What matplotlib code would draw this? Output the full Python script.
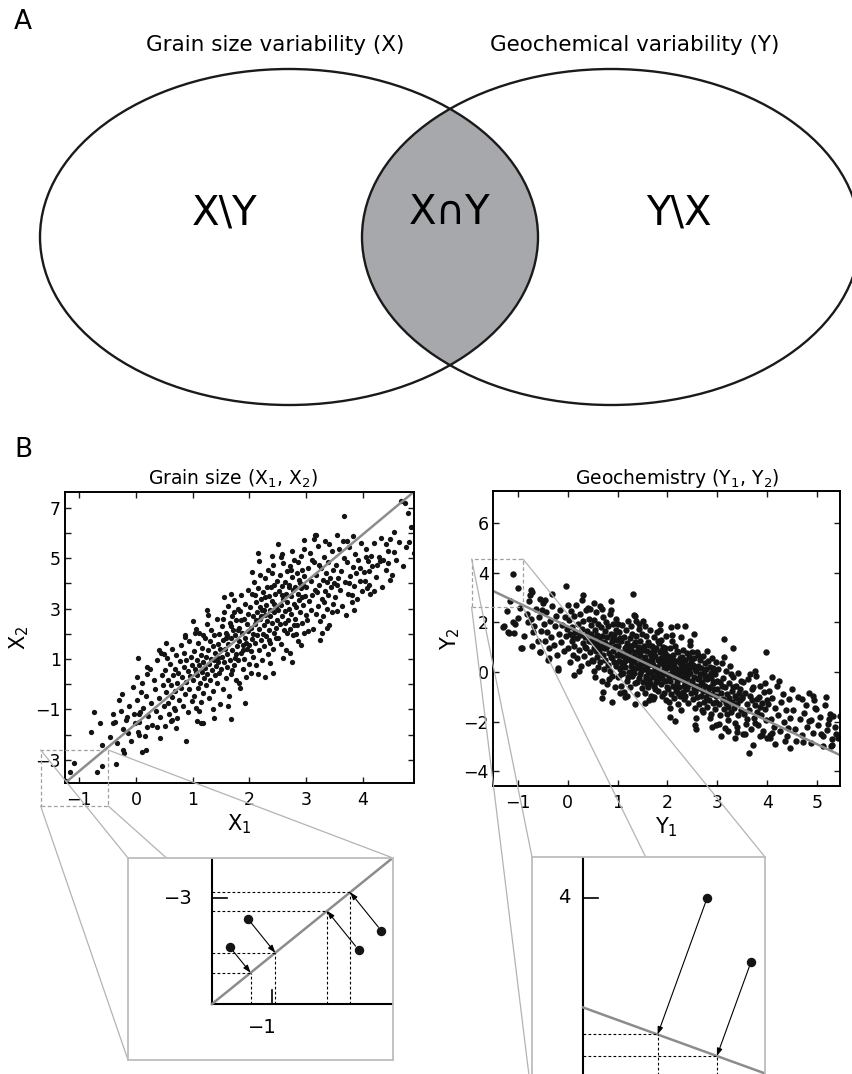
import numpy as np
import matplotlib
matplotlib.use("Agg")
import matplotlib.pyplot as plt
from matplotlib.patches import Ellipse, Rectangle, ConnectionPatch

plt.rcParams['font.family'] = 'DejaVu Sans'
plt.rcParams['mathtext.default'] = 'regular'

# ---------------- data ----------------
# grain size scatter (X1, X2)
grain_pts = [
    # sparse lower-left tail
    (-1.23,-3.84),(-1.16,-3.47),(-1.09,-3.14),(-0.69,-3.47),(-0.59,-3.23),(-0.35,-3.18),(-0.60,-2.41),
    (-0.79,-1.88),(-0.63,-1.55),(-0.74,-1.09),(-0.40,-1.55),(-0.37,-1.50),(-0.30,-0.63),(-0.22,-2.60),
    (-0.21,-2.72),(0.10,-2.68),(0.18,-2.61),(-0.23,-1.79),(-0.18,-1.40),(-0.15,-1.30),(-0.03,-1.18),
    (0.04,-1.90),(0.05,-2.02),(0.05,-1.20),(0.07,-1.12),(0.19,-1.69),(0.37,-1.69),(0.42,-2.12),
    (0.89,-2.25),(0.62,-1.46),(0.64,-1.42),(0.69,-1.02),(1.08,-1.45),(1.15,-1.55),(1.19,-1.52),
    (1.38,-1.35),(1.68,-1.39),(1.92,-0.76),(0.03,1.03),(0.01,0.30),(0.20,0.70),(0.19,0.42),(0.53,1.62),
    (0.40,1.35),(0.45,1.25),(0.50,1.20),(2.28,0.30),(2.42,0.43),(2.72,1.22),
    # sparse upper-right tail
    (4.67,7.28),(4.74,7.19),(4.80,6.79),(4.90,5.20),(4.82,5.63),(4.54,6.04),(4.55,5.25),(4.41,5.56),
    (4.51,4.32),(4.45,4.81),(3.67,6.66),(4.13,3.58),(4.30,4.90),(4.25,4.75),(4.15,5.10),(4.06,5.05),
    (4.09,4.90),(4.10,4.50),(4.04,4.10),(4.08,3.80),(3.54,5.93),(3.72,5.67),(3.83,5.87),(3.16,5.93),
    (3.18,5.92),(2.97,5.73),(3.33,5.67),(2.51,5.56),(2.15,5.20),(2.75,5.27),(2.40,5.10),(2.58,5.15),
    (1.67,3.58),(1.26,2.96),(1.01,2.50),(1.04,2.03),(0.86,1.86),(3.36,2.23),(3.80,3.53),
    # x < 0.5
    (-0.45,-2.10),(-0.41,-1.20),(-0.33,-2.35),(-0.27,-1.05),(-0.24,-0.40),(-0.12,-0.85),(-0.08,-2.25),
    (-0.05,-0.10),(-0.02,-1.55),(-0.14,-1.95),
    (0.02,-0.62),(0.06,-1.48),(0.09,-0.30),(0.11,0.05),(0.13,-0.95),(0.16,-2.05),(0.18,-0.48),(0.21,-1.25),
    (0.24,0.62),(0.26,-0.75),(0.29,-1.62),(0.31,0.18),(0.33,-0.20),(0.36,-1.05),(0.38,0.95),(0.41,-0.55),
    (0.43,-1.30),(0.46,0.35),(0.47,-0.05),(0.49,-0.88),
    # 0.5 - 1.0
    (0.51,-1.65),(0.52,0.55),(0.53,-0.30),(0.55,1.05),(0.56,-0.75),(0.57,0.15),(0.59,-1.20),(0.60,0.80),
    (0.61,-0.05),(0.63,-0.50),(0.64,1.40),(0.65,0.35),(0.67,-0.95),(0.68,0.62),(0.69,-0.25),(0.71,1.15),
    (0.72,0.05),(0.73,-1.35),(0.75,0.45),(0.76,-0.62),(0.77,0.92),(0.79,1.55),(0.80,-0.15),(0.81,0.28),
    (0.83,-0.85),(0.84,0.70),(0.85,1.25),(0.87,-0.40),(0.88,0.10),(0.89,0.98),(0.91,-1.10),(0.92,0.52),
    (0.93,1.70),(0.94,-0.20),(0.96,0.32),(0.97,1.08),(0.98,-0.65),(0.99,0.78),(0.70,-1.75),(0.86,1.95),
    # 1.0 - 1.5
    (1.01,0.15),(1.02,1.30),(1.03,-0.45),(1.04,0.62),(1.05,2.20),(1.06,-0.95),(1.07,0.95),(1.08,0.35),
    (1.09,1.62),(1.10,-0.15),(1.11,0.78),(1.12,2.05),(1.13,0.05),(1.14,1.15),(1.15,-0.70),(1.16,0.48),
    (1.17,1.45),(1.18,0.90),(1.19,-0.35),(1.20,0.25),(1.21,1.85),(1.22,0.65),(1.23,1.10),(1.24,-0.05),
    (1.25,2.40),(1.26,0.42),(1.27,1.35),(1.28,0.82),(1.29,-0.55),(1.30,1.72),(1.31,0.18),(1.32,1.02),
    (1.33,2.15),(1.34,0.55),(1.35,1.50),(1.36,-0.25),(1.37,0.95),(1.38,1.95),(1.39,0.38),(1.40,1.25),
    (1.41,0.72),(1.42,2.60),(1.43,0.05),(1.44,1.58),(1.45,1.05),(1.46,0.45),(1.47,2.00),(1.48,-0.80),
    (1.49,1.38),(1.12,-1.05),(1.27,2.75),(1.36,-0.98),(1.44,0.88),(1.18,1.95),(1.05,0.50),
    # 1.5 - 2.0
    (1.50,0.62),(1.51,2.30),(1.52,1.10),(1.53,-0.20),(1.54,1.75),(1.55,0.90),(1.56,2.85),(1.57,1.40),
    (1.58,0.25),(1.59,2.05),(1.60,1.20),(1.61,0.70),(1.62,3.10),(1.63,1.60),(1.64,-0.45),(1.65,2.45),
    (1.66,0.98),(1.67,1.85),(1.68,0.40),(1.69,2.70),(1.70,1.35),(1.71,2.15),(1.72,0.75),(1.73,3.35),
    (1.74,1.05),(1.75,1.95),(1.76,0.15),(1.77,2.55),(1.78,1.50),(1.79,3.00),(1.80,0.95),(1.81,2.25),
    (1.82,1.70),(1.83,-0.15),(1.84,2.90),(1.85,1.25),(1.86,3.55),(1.87,2.05),(1.88,0.60),(1.89,1.55),
    (1.90,2.60),(1.91,1.00),(1.92,3.20),(1.93,1.85),(1.94,0.30),(1.95,2.40),(1.96,1.40),(1.97,3.75),
    (1.98,2.10),(1.99,0.82),(1.55,3.45),(1.63,-0.85),(1.72,2.85),(1.81,0.05),(1.58,1.82),(1.67,2.30),
    (1.76,1.20),(1.85,2.55),(1.94,1.65),(1.53,2.60),(1.61,1.95),(1.70,0.55),(1.79,2.15),(1.88,1.35),
    (1.97,2.80),
    # 2.0 - 2.5
    (2.00,1.55),(2.01,3.05),(2.02,2.25),(2.03,0.45),(2.04,3.60),(2.05,1.80),(2.06,2.70),(2.07,1.10),
    (2.08,4.05),(2.09,2.40),(2.10,1.65),(2.11,3.25),(2.12,0.75),(2.13,2.85),(2.14,1.95),(2.15,3.80),
    (2.16,2.20),(2.17,1.35),(2.18,4.35),(2.19,2.60),(2.20,3.40),(2.21,1.75),(2.22,2.95),(2.23,0.95),
    (2.24,3.65),(2.25,2.35),(2.26,1.50),(2.27,4.20),(2.28,2.75),(2.29,3.15),(2.30,1.90),(2.31,2.50),
    (2.32,4.55),(2.33,1.20),(2.34,3.50),(2.35,2.15),(2.36,2.95),(2.37,1.65),(2.38,3.85),(2.39,2.45),
    (2.40,3.30),(2.41,1.40),(2.42,4.75),(2.43,2.85),(2.44,2.05),(2.45,3.60),(2.46,1.85),(2.47,3.05),
    (2.48,2.55),(2.49,4.10),(2.05,4.45),(2.12,2.55),(2.18,3.05),(2.24,2.00),(2.31,3.85),(2.37,2.70),
    (2.44,3.20),(2.02,1.30),(2.09,3.55),(2.15,0.40),(2.21,2.70),(2.27,3.45),(2.34,1.75),(2.40,4.40),
    (2.47,2.25),(2.07,2.00),(2.26,2.95),(2.43,3.95),(2.16,4.90),(2.36,0.85),
    # 2.5 - 3.0
    (2.50,2.95),(2.51,1.85),(2.52,3.70),(2.53,2.40),(2.54,4.35),(2.55,3.15),(2.56,1.60),(2.57,3.90),
    (2.58,2.70),(2.59,4.80),(2.60,3.40),(2.61,2.15),(2.62,4.05),(2.63,2.90),(2.64,3.60),(2.65,1.35),
    (2.66,4.50),(2.67,3.25),(2.68,2.55),(2.69,3.95),(2.70,3.00),(2.71,4.70),(2.72,2.20),(2.73,3.50),
    (2.74,2.80),(2.75,4.25),(2.76,3.75),(2.77,1.95),(2.78,3.20),(2.79,4.95),(2.80,2.60),(2.81,3.85),
    (2.82,3.05),(2.83,4.40),(2.84,2.35),(2.85,3.60),(2.86,1.70),(2.87,4.15),(2.88,3.35),(2.89,2.85),
    (2.90,5.10),(2.91,3.80),(2.92,2.45),(2.93,4.55),(2.94,3.15),(2.95,3.95),(2.96,2.05),(2.97,4.30),
    (2.98,3.50),(2.99,2.75),(2.55,5.05),(2.62,2.45),(2.70,3.85),(2.78,2.35),(2.85,4.85),(2.93,3.45),
    (2.58,3.55),(2.66,2.05),(2.74,4.55),(2.82,2.00),(2.89,4.00),(2.97,5.35),(2.60,1.05),(2.75,0.90),
    (2.90,1.55),
    # 3.0 - 3.5
    (3.00,3.85),(3.02,2.55),(3.03,4.60),(3.05,3.30),(3.06,5.20),(3.08,2.95),(3.09,4.10),(3.11,3.55),
    (3.12,2.20),(3.14,4.85),(3.15,3.75),(3.17,2.80),(3.18,4.35),(3.20,3.10),(3.21,5.50),(3.23,3.95),
    (3.24,2.50),(3.26,4.60),(3.27,3.40),(3.29,4.15),(3.30,2.70),(3.32,5.05),(3.33,3.70),(3.35,4.40),
    (3.36,3.00),(3.38,4.85),(3.39,3.55),(3.41,2.35),(3.42,4.20),(3.44,3.85),(3.45,5.30),(3.47,3.20),
    (3.48,4.55),(3.10,4.95),(3.19,3.65),(3.28,2.05),(3.37,4.05),(3.46,2.85),(3.04,2.10),(3.13,5.75),
    (3.22,4.75),(3.31,3.25),(3.40,5.55),(3.49,4.00),(3.25,1.75),
    # 3.5 - 4.0
    (3.50,3.45),(3.52,4.75),(3.54,2.90),(3.56,4.20),(3.58,5.35),(3.60,3.75),(3.62,4.50),(3.64,3.10),
    (3.66,5.00),(3.68,4.05),(3.70,2.75),(3.72,4.85),(3.74,3.60),(3.76,5.45),(3.78,4.30),(3.80,3.25),
    (3.82,4.65),(3.84,3.90),(3.86,5.15),(3.88,4.40),(3.90,3.40),(3.92,4.95),(3.94,4.10),(3.96,5.60),
    (3.98,3.70),(3.55,3.95),(3.65,5.70),(3.75,4.00),(3.85,2.95),(3.95,4.60),
    # x > 4
    (4.02,4.45),(4.05,5.35),(4.11,3.95),(4.16,4.70),(4.20,5.60),(4.23,4.25),(4.28,5.05),(4.33,3.85),
    (4.36,4.95),(4.40,4.55),(4.44,5.30),(4.47,4.15),(4.19,3.70),(4.31,5.80),(4.48,5.75),
    (4.58,4.95),(4.63,5.65),(4.70,4.70),(4.76,5.45),(4.85,6.25),
]

# geochemistry scatter (Y1, Y2)
geo_pts = [
    # sparse outer points
    (-1.10,3.95),(-1.00,3.39),(-0.75,3.10),(-0.74,3.30),(-0.72,3.22),(-0.03,3.48),(-0.32,3.15),(0.30,3.12),
    (1.31,3.15),(-1.28,1.84),(-1.17,1.57),(-1.08,1.57),(-0.99,2.18),(-1.10,2.00),(-0.80,2.00),(-0.70,1.62),
    (-0.73,2.15),(-0.92,0.95),(-0.72,1.05),(-0.55,0.82),(-0.40,0.48),(-0.38,0.55),(-0.20,0.08),(0.12,-0.12),
    (0.70,-0.79),(0.69,-1.06),(0.89,-1.22),(1.05,-0.85),(1.15,-1.02),(1.34,-1.30),(1.55,-1.25),(1.62,-1.15),
    (1.72,-1.00),(2.06,-1.80),(2.16,-1.98),(2.55,-2.14),(2.58,-2.30),(2.90,-2.20),(2.97,-2.15),(3.08,-2.58),
    (3.22,-2.40),(3.35,-2.68),(3.40,-2.42),(3.51,-2.50),(3.63,-3.28),(3.72,-2.94),(3.85,-2.60),(4.00,-2.65),
    (4.05,-2.55),(4.10,-2.45),(4.15,-2.92),(4.35,-2.80),(4.45,-3.06),(4.58,-2.78),(4.72,-2.82),(4.88,-2.88),
    (5.07,-2.52),(5.11,-2.97),(5.27,-3.00),(5.29,-2.70),(5.37,-2.50),(5.45,-1.76),(5.32,-1.76),(5.22,-2.08),
    (5.24,-1.90),(3.98,0.82),(3.31,0.98),(3.13,1.32),(3.75,0.04),(4.10,-0.19),(4.92,-0.97),(5.17,-0.99),
    (4.70,-1.10),(4.77,-1.35),(4.93,-1.15),(4.95,-1.45),(4.84,-1.98),(2.54,1.55),(2.20,1.85),(2.35,1.85),
    (2.07,1.80),(1.84,1.94),(1.35,2.25),(1.42,1.95),(1.50,2.05),(0.87,2.85),(0.87,2.50),(0.40,2.58),
    (0.52,2.78),(0.00,2.70),(-0.45,2.90),(-0.50,2.78),(-0.55,2.95),(-1.30,1.83),(-1.20,1.62),(-0.93,0.98),
    (-0.56,0.82),(-0.19,0.15),
    # x < 0
    (-1.22,2.45),(-1.15,2.85),(-1.05,1.95),(-0.95,2.60),(-0.88,1.45),(-0.82,2.35),(-0.78,2.85),(-0.68,1.85),
    (-0.64,2.55),(-0.60,1.25),(-0.57,2.20),(-0.53,1.65),(-0.51,2.50),
    (-0.48,1.95),(-0.46,1.25),(-0.43,2.40),(-0.41,1.60),(-0.38,0.95),(-0.36,2.05),(-0.33,1.40),(-0.31,2.65),
    (-0.28,1.10),(-0.26,1.85),(-0.23,2.25),(-0.21,0.70),(-0.18,1.55),(-0.16,2.50),(-0.13,1.20),(-0.11,1.90),
    (-0.08,0.85),(-0.06,2.20),(-0.03,1.45),(-0.01,1.75),
    # 0.0 - 0.5
    (0.01,0.95),(0.02,2.10),(0.04,1.55),(0.05,0.40),(0.06,2.45),(0.08,1.25),(0.09,1.80),(0.10,0.70),
    (0.12,2.25),(0.13,1.05),(0.15,1.60),(0.16,2.70),(0.18,0.55),(0.19,1.35),(0.21,1.95),(0.22,0.90),
    (0.24,2.35),(0.25,1.50),(0.27,0.25),(0.28,1.75),(0.30,1.15),(0.31,2.05),(0.33,0.65),(0.34,1.40),
    (0.36,2.50),(0.37,0.95),(0.39,1.65),(0.40,0.35),(0.42,1.25),(0.43,2.15),(0.45,0.80),(0.46,1.55),
    (0.47,1.90),(0.49,0.50),(0.11,1.40),(0.23,0.05),(0.29,2.90),(0.35,1.00),(0.44,2.55),(0.48,1.20),
    # 0.5 - 1.0
    (0.50,1.35),(0.51,0.45),(0.52,2.10),(0.53,0.95),(0.54,1.70),(0.55,-0.20),(0.56,1.15),(0.57,2.40),
    (0.58,0.60),(0.59,1.50),(0.60,0.20),(0.61,1.95),(0.62,0.85),(0.63,1.30),(0.64,2.65),(0.65,0.40),
    (0.66,1.05),(0.67,1.80),(0.68,-0.35),(0.69,1.45),(0.70,0.70),(0.71,2.20),(0.72,0.10),(0.73,1.20),
    (0.74,1.65),(0.75,0.50),(0.76,2.00),(0.77,0.95),(0.78,-0.50),(0.79,1.40),(0.80,0.30),(0.81,1.85),
    (0.82,0.75),(0.83,1.10),(0.84,2.35),(0.85,0.05),(0.86,1.55),(0.87,0.60),(0.88,1.25),(0.89,-0.15),
    (0.90,1.95),(0.91,0.85),(0.92,0.40),(0.93,1.50),(0.94,1.05),(0.95,-0.60),(0.96,2.15),(0.97,0.25),
    (0.98,1.30),(0.99,0.70),(0.52,0.05),(0.60,1.05),(0.68,2.55),(0.75,1.15),(0.83,-0.30),(0.90,1.35),
    (0.97,1.70),(0.57,0.85),(0.72,0.95),(0.88,0.55),
    # 1.0 - 1.5
    (1.00,1.05),(1.01,-0.20),(1.02,0.45),(1.03,1.60),(1.04,0.10),(1.05,0.80),(1.06,-0.55),(1.07,1.25),
    (1.08,0.35),(1.09,1.90),(1.10,-0.05),(1.11,0.65),(1.12,1.40),(1.13,-0.80),(1.14,0.95),(1.15,0.20),
    (1.16,1.70),(1.17,0.50),(1.18,-0.35),(1.19,1.15),(1.20,0.75),(1.21,2.05),(1.22,0.00),(1.23,0.55),
    (1.24,1.35),(1.25,-0.60),(1.26,0.90),(1.27,0.25),(1.28,1.55),(1.29,-0.15),(1.30,0.65),(1.31,1.10),
    (1.32,0.40),(1.33,2.30),(1.34,-0.45),(1.35,0.80),(1.36,0.15),(1.37,1.45),(1.38,-0.90),(1.39,0.55),
    (1.40,1.00),(1.41,0.30),(1.42,1.75),(1.43,-0.25),(1.44,0.70),(1.45,1.25),(1.46,0.05),(1.47,0.45),
    (1.48,1.55),(1.49,-0.65),(1.03,0.70),(1.07,-0.10),(1.12,0.40),(1.16,1.00),(1.21,-0.20),(1.26,1.85),
    (1.30,0.10),(1.35,1.20),(1.39,-0.40),(1.44,0.20),(1.48,0.90),(1.05,1.35),(1.14,0.60),(1.23,1.05),
    (1.32,-0.05),(1.41,0.85),(1.09,0.25),(1.18,0.85),(1.27,0.45),(1.36,0.55),(1.45,-0.10),(1.01,1.95),
    (1.19,-0.95),(1.37,2.05),(1.46,0.95),
    # 1.5 - 2.0
    (1.50,0.35),(1.51,-0.40),(1.52,1.05),(1.53,0.10),(1.54,-0.85),(1.55,0.60),(1.56,1.45),(1.57,-0.15),
    (1.58,0.85),(1.59,0.25),(1.60,-0.60),(1.61,1.20),(1.62,0.45),(1.63,-0.30),(1.64,0.75),(1.65,1.70),
    (1.66,0.00),(1.67,-0.95),(1.68,0.55),(1.69,1.05),(1.70,-0.20),(1.71,0.30),(1.72,1.40),(1.73,-0.55),
    (1.74,0.65),(1.75,0.10),(1.76,0.95),(1.77,-0.40),(1.78,1.60),(1.79,0.20),(1.80,-0.75),(1.81,0.50),
    (1.82,1.15),(1.83,-0.10),(1.84,0.35),(1.85,0.80),(1.86,-0.50),(1.87,1.30),(1.88,0.05),(1.89,-0.25),
    (1.90,0.60),(1.91,1.00),(1.92,-0.85),(1.93,0.25),(1.94,0.75),(1.95,-0.35),(1.96,1.45),(1.97,0.15),
    (1.98,-0.60),(1.99,0.45),(1.52,0.50),(1.56,-0.25),(1.61,0.05),(1.65,-0.45),(1.69,0.40),(1.73,0.85),
    (1.77,0.00),(1.81,-0.30),(1.86,0.55),(1.90,-0.05),(1.94,0.95),(1.98,0.20),(1.54,1.85),(1.63,1.10),
    (1.71,-1.10),(1.80,1.25),(1.89,0.90),(1.97,-1.15),(1.58,-0.50),(1.67,0.70),(1.75,-0.70),(1.84,1.70),
    (1.92,0.40),(1.53,0.90),(1.62,-0.05),(1.70,0.95),(1.79,-0.20),(1.88,-0.95),(1.96,0.65),(1.60,0.30),
    # 2.0 - 2.5
    (2.00,-0.10),(2.01,0.65),(2.02,-0.70),(2.03,0.20),(2.04,-1.20),(2.05,0.95),(2.06,-0.35),(2.07,0.40),
    (2.08,-0.90),(2.09,1.25),(2.10,0.00),(2.11,-0.55),(2.12,0.70),(2.13,-1.05),(2.14,0.25),(2.15,-0.20),
    (2.16,1.05),(2.17,-0.75),(2.18,0.45),(2.19,-0.40),(2.20,0.10),(2.21,-1.30),(2.22,0.80),(2.23,-0.05),
    (2.24,-0.60),(2.25,0.55),(2.26,-0.95),(2.27,0.15),(2.28,1.40),(2.29,-0.30),(2.30,0.35),(2.31,-0.80),
    (2.32,0.90),(2.33,-0.15),(2.34,-1.10),(2.35,0.50),(2.36,-0.45),(2.37,0.05),(2.38,-0.70),(2.39,0.75),
    (2.40,-0.25),(2.41,0.30),(2.42,-1.25),(2.43,0.60),(2.44,-0.50),(2.45,-0.05),(2.46,1.10),(2.47,-0.85),
    (2.48,0.20),(2.49,-0.35),(2.02,0.35),(2.06,-1.45),(2.11,0.50),(2.15,-0.60),(2.20,0.85),(2.24,-0.20),
    (2.29,0.60),(2.33,-0.55),(2.38,0.25),(2.42,-0.10),(2.47,0.45),(2.04,-0.25),(2.13,0.10),(2.22,-0.85),
    (2.31,0.05),(2.40,-0.65),(2.49,0.80),(2.08,0.55),(2.17,-0.10),(2.26,0.35),(2.35,-0.95),(2.44,0.15),
    (2.10,1.50),(2.27,-1.55),(2.45,1.25),
    # 2.5 - 3.0
    (2.50,-0.45),(2.51,0.30),(2.52,-1.10),(2.53,-0.20),(2.54,0.55),(2.55,-0.80),(2.56,-1.45),(2.57,0.05),
    (2.58,-0.55),(2.59,0.80),(2.60,-1.00),(2.61,-0.30),(2.62,0.25),(2.63,-1.30),(2.64,-0.65),(2.65,0.50),
    (2.66,-0.10),(2.67,-0.95),(2.68,0.15),(2.69,-1.55),(2.70,-0.40),(2.71,0.65),(2.72,-0.75),(2.73,-0.05),
    (2.74,-1.20),(2.75,0.35),(2.76,-0.55),(2.77,-1.00),(2.78,0.10),(2.79,-0.30),(2.80,-1.40),(2.81,0.45),
    (2.82,-0.85),(2.83,-0.15),(2.84,-1.15),(2.85,0.20),(2.86,-0.60),(2.87,-1.70),(2.88,-0.25),(2.89,0.55),
    (2.90,-0.90),(2.91,-0.45),(2.92,-1.25),(2.93,0.05),(2.94,-0.70),(2.95,-1.50),(2.96,-0.10),(2.97,0.40),
    (2.98,-0.95),(2.99,-0.35),(2.53,-0.65),(2.61,0.70),(2.68,-0.50),(2.76,-0.20),(2.83,-0.65),(2.91,0.15),
    (2.98,-1.20),(2.56,0.10),(2.64,-0.25),(2.72,-1.60),(2.79,0.85),(2.87,-0.05),(2.94,-0.40),(2.58,-1.85),
    (2.85,-1.85),
    # 3.0 - 3.5
    (3.00,-0.70),(3.02,0.10),(3.03,-1.30),(3.05,-0.40),(3.06,-1.75),(3.08,-0.85),(3.09,0.35),(3.11,-1.10),
    (3.12,-0.25),(3.14,-1.50),(3.15,-0.60),(3.17,0.05),(3.18,-1.25),(3.20,-0.90),(3.21,-1.95),(3.23,-0.45),
    (3.24,-1.05),(3.26,0.25),(3.27,-1.60),(3.29,-0.75),(3.30,-1.20),(3.32,-0.20),(3.33,-1.45),(3.35,-0.95),
    (3.36,-2.05),(3.38,-0.55),(3.39,-1.30),(3.41,-0.05),(3.42,-1.75),(3.44,-0.85),(3.45,-1.15),(3.47,-0.35),
    (3.48,-1.55),(3.04,-2.10),(3.13,0.60),(3.22,-1.40),(3.31,-0.60),(3.40,-2.20),(3.49,-1.00),(3.10,-0.55),
    (3.19,-1.70),(3.28,-0.10),(3.37,-1.05),(3.46,-0.70),(3.16,-2.25),
    # 3.5 - 4.0
    (3.50,-1.05),(3.52,-0.40),(3.54,-1.70),(3.56,-0.85),(3.58,-2.10),(3.60,-1.30),(3.62,-0.30),(3.64,-1.55),
    (3.66,-0.95),(3.68,-2.30),(3.70,-1.15),(3.72,-0.60),(3.74,-1.85),(3.76,-1.35),(3.78,-0.15),(3.80,-1.60),
    (3.82,-2.15),(3.84,-1.00),(3.86,-0.55),(3.88,-1.75),(3.90,-1.25),(3.92,-2.40),(3.94,-0.80),(3.96,-1.50),
    (3.98,-1.95),(3.55,-2.50),(3.65,-0.10),(3.75,-2.05),(3.85,-1.40),(3.95,-0.45),(3.59,-1.90),(3.69,-0.70),
    (3.79,-1.10),(3.89,-2.55),(3.99,-1.15),
    # x > 4
    (4.01,-1.30),(4.04,-0.75),(4.07,-1.90),(4.10,-1.05),(4.13,-2.20),(4.16,-1.45),(4.19,-0.55),(4.22,-1.75),
    (4.25,-2.40),(4.28,-1.20),(4.31,-0.90),(4.34,-2.00),(4.37,-1.55),(4.40,-2.60),(4.43,-1.10),(4.46,-1.85),
    (4.49,-0.70),(4.06,-2.65),(4.24,-0.35),(4.42,-2.25),
    (4.52,-1.55),(4.56,-2.30),(4.61,-1.00),(4.65,-1.90),(4.69,-2.55),(4.74,-1.65),(4.79,-2.20),(4.83,-0.85),
    (4.88,-1.95),(4.92,-2.45),(4.97,-1.50),(5.02,-2.15),(5.06,-1.80),(5.11,-2.60),(5.15,-1.35),(5.20,-2.35),
    (5.25,-1.70),(5.30,-2.95),(5.36,-2.20),(5.42,-2.65),
]

# fitted directions: (slope, intercept)
grain_fit = (1.88, -1.57)
geo_fit = (-0.951, 1.84)

grain_xlim, grain_ylim = (-1.25, 4.9), (-3.92, 7.63)
geo_xlim, geo_ylim = (-1.5, 5.46), (-4.6, 7.3)
grain_xticks = [-1, 0, 1, 2, 3, 4]
grain_yticks = list(range(-3, 8))
geo_xticks = list(range(-1, 6))
geo_yticks = [-4, -2, 0, 2, 4, 6]

# zoomed windows (x0, x1, y0, y1)
grain_box = (-1.68, -0.49, -4.83, -2.61)
geo_box = (-1.93, -0.90, 2.62, 4.56)

# magnified sketches
grain_in_xlim, grain_in_ylim = (-1.60, -0.494), (-4.405, -2.653)
grain_in_origin = (-1.25, -3.92)
grain_in_line = ([-1.25, -0.50], [-3.92, -2.66])
grain_in_pts = [(-1.175, -3.425), (-1.10, -3.18), (-0.6375, -3.45), (-0.542, -3.286)]

geo_in_xlim, geo_in_ylim = (-1.726, -0.695), (2.653, 4.273)
geo_in_axis_x = -1.5
geo_in_line = ([-1.5, -0.695], [3.27, 2.83])
geo_in_pts = [(-0.951, 4.0), (-0.757, 3.573)]

LINE_GRAY = '#8c8c8c'
ZOOM_GRAY = '#b3b3b3'
DOT = '#141414'

W, H = 853, 1074
fig = plt.figure(figsize=(W / 100, H / 100), dpi=100)


def px_axes(x0, y0, x1, y1, **kw):
    return fig.add_axes([x0 / W, 1 - y1 / H, (x1 - x0) / W, (y1 - y0) / H], **kw)


# ---------------- panel A: Venn diagram ----------------
axA = px_axes(0, 0, W, 430, zorder=0)
axA.set_xlim(0, W)
axA.set_ylim(430, 0)
axA.axis('off')

ell_w, ell_h = 498, 336
left_c, right_c = (289, 237), (611, 237)
clip = Ellipse(left_c, ell_w, ell_h, transform=axA.transData)
lens = Ellipse(right_c, ell_w, ell_h, fc='#a7a8ac', ec='none')
axA.add_patch(lens)
lens.set_clip_path(clip)
for c in (left_c, right_c):
    axA.add_patch(Ellipse(c, ell_w, ell_h, fill=False, ec='#1a1a1a', lw=1.7))

axA.text(23, 22, 'A', fontsize=19, ha='center', va='center')
axA.text(275, 45, 'Grain size variability (X)', fontsize=15.5, ha='center', va='center')
axA.text(635, 45, 'Geochemical variability (Y)', fontsize=15.5, ha='center', va='center')
axA.text(225, 214, 'X\\Y', fontsize=29, ha='center', va='center')
axA.text(450, 213, 'X\u2229Y', fontsize=29, ha='center', va='center')
axA.text(679, 214, 'Y\\X', fontsize=29, ha='center', va='center')

fig.text(23 / W, 1 - 450 / H, 'B', fontsize=19, ha='center', va='center')


# ---------------- panel B: scatter plots ----------------
def style_axes(ax):
    ax.tick_params(direction='in', length=4, width=1, top=True, right=True,
                   labelsize=12.5, color='#1a1a1a')
    ax.tick_params(axis='x', pad=6)
    ax.tick_params(axis='y', pad=3)
    for s in ax.spines.values():
        s.set_linewidth(1.4)


def dashed_box(ax, box):
    x0, x1, y0, y1 = box
    ax.add_patch(Rectangle((x0, y0), x1 - x0, y1 - y0, fill=False, ec='#a0a0a0',
                           lw=0.9, ls=(0, (3, 2)), clip_on=False, zorder=4))


def connect(ax, axin, box):
    x0, x1, y0, y1 = box
    corners = [((x0, y1), (0, 1)), ((x1, y1), (1, 1)), ((x0, y0), (0, 0)), ((x1, y0), (1, 0))]
    for xy_a, xy_b in corners:
        cp = ConnectionPatch(xyA=xy_a, coordsA=ax.transData, xyB=xy_b, coordsB=axin.transAxes,
                             color=ZOOM_GRAY, lw=0.9, zorder=2)
        fig.add_artist(cp)


def project(ax, pt, line_x, line_y):
    # orthogonal projection of a point onto the line, as seen on screen
    T = ax.transData
    a = T.transform((line_x[0], line_y[0]))
    b = T.transform((line_x[1], line_y[1]))
    p = T.transform(pt)
    d = (b - a) / np.linalg.norm(b - a)
    q = a + np.dot(p - a, d) * d
    return T.inverted().transform(q)


# grain size
ax1 = px_axes(65, 492, 414, 783, zorder=1)
gx = np.array([p[0] for p in grain_pts])
gy = np.array([p[1] for p in grain_pts])
ax1.plot(gx, gy, 'o', ms=3.8, color=DOT, mec='none')
xs = np.array(grain_xlim)
ax1.plot(xs, grain_fit[0] * xs + grain_fit[1], color=LINE_GRAY, lw=1.8)
ax1.set_xlim(grain_xlim)
ax1.set_ylim(grain_ylim)
ax1.set_xticks(grain_xticks)
ax1.set_yticks(grain_yticks)
ax1.set_yticklabels([f'{v}'.replace('-', '\u2212') if v % 2 else '' for v in grain_yticks])
style_axes(ax1)
ax1.set_title('Grain size (X$_1$, X$_2$)', fontsize=13.5, x=0.48, pad=5)
ax1.set_xlabel('X$_1$', fontsize=15, labelpad=2)
ax1.set_ylabel('X$_2$', fontsize=15, labelpad=3)
dashed_box(ax1, grain_box)

# geochemistry
ax2 = px_axes(493, 491, 840, 786, zorder=1)
yx = np.array([p[0] for p in geo_pts])
yy = np.array([p[1] for p in geo_pts])
ax2.plot(yx, yy, 'o', ms=4.6, color=DOT, mec='none')
xs = np.array(geo_xlim)
ax2.plot(xs, geo_fit[0] * xs + geo_fit[1], color=LINE_GRAY, lw=1.8)
ax2.set_xlim(geo_xlim)
ax2.set_ylim(geo_ylim)
ax2.set_xticks(geo_xticks)
ax2.set_yticks(geo_yticks)
style_axes(ax2)
ax2.set_title('Geochemistry (Y$_1$, Y$_2$)', fontsize=13.5, x=0.53, pad=5)
ax2.set_xlabel('Y$_1$', fontsize=15, labelpad=2)
ax2.set_ylabel('Y$_2$', fontsize=15, labelpad=1)
dashed_box(ax2, geo_box)


# ---------------- magnified sketches ----------------
def inset_frame(axin):
    axin.set_xticks([])
    axin.set_yticks([])
    axin.set_facecolor('white')
    for s in axin.spines.values():
        s.set_color('#bdbdbd')
        s.set_linewidth(1.3)


arrow_kw = dict(arrowstyle='-|>,head_length=0.45,head_width=0.16', color='k', lw=0.8,
                shrinkA=3.5, shrinkB=0)
dash_kw = dict(color='k', lw=0.8, ls=(0, (2.5, 2)))

# grain size sketch
in1 = px_axes(128, 858, 393, 1060, zorder=3)
inset_frame(in1)
in1.set_xlim(grain_in_xlim)
in1.set_ylim(grain_in_ylim)
ox, oy = grain_in_origin
in1.plot([ox, ox], [oy, grain_in_ylim[1]], color='k', lw=1.5, solid_capstyle='butt')
in1.plot([ox, grain_in_xlim[1]], [oy, oy], color='k', lw=1.5, solid_capstyle='butt')
in1.plot([ox, ox + 0.065], [-3, -3], color='k', lw=1.2)
in1.plot([-1, -1], [oy, oy + 0.12], color='k', lw=1.2)
in1.text(ox - 0.08, -3, '\u22123', fontsize=14, ha='right', va='center')
in1.text(-1.04, -4.12, '\u22121', fontsize=14, ha='center', va='center')
in1.plot(grain_in_line[0], grain_in_line[1], color=LINE_GRAY, lw=1.8)
for pt in grain_in_pts:
    q = project(in1, pt, *grain_in_line)
    in1.plot([ox, q[0]], [q[1], q[1]], **dash_kw)
    in1.plot([q[0], q[0]], [oy, q[1]], **dash_kw)
    in1.annotate('', xy=q, xytext=pt, arrowprops=arrow_kw)
    in1.plot(*pt, 'o', ms=6.8, color=DOT, mec='none')
connect(ax1, in1, grain_box)

# geochemistry sketch
in2 = px_axes(532, 857, 765, 1100, zorder=3)
inset_frame(in2)
in2.set_xlim(geo_in_xlim)
in2.set_ylim(geo_in_ylim)
ax_x = geo_in_axis_x
in2.plot([ax_x, ax_x], list(geo_in_ylim), color='k', lw=1.5)
in2.plot([ax_x, ax_x + 0.066], [4, 4], color='k', lw=1.2)
in2.text(ax_x - 0.084, 4, '4', fontsize=14, ha='center', va='center')
in2.plot(geo_in_line[0], geo_in_line[1], color=LINE_GRAY, lw=1.8)
for pt in geo_in_pts:
    q = project(in2, pt, *geo_in_line)
    in2.plot([ax_x, q[0]], [q[1], q[1]], **dash_kw)
    in2.plot([q[0], q[0]], [geo_in_ylim[0], q[1]], **dash_kw)
    in2.annotate('', xy=q, xytext=pt, arrowprops=arrow_kw)
    in2.plot(*pt, 'o', ms=6.8, color=DOT, mec='none')
connect(ax2, in2, geo_box)

fig.savefig('out.png', dpi=100, facecolor='white')
